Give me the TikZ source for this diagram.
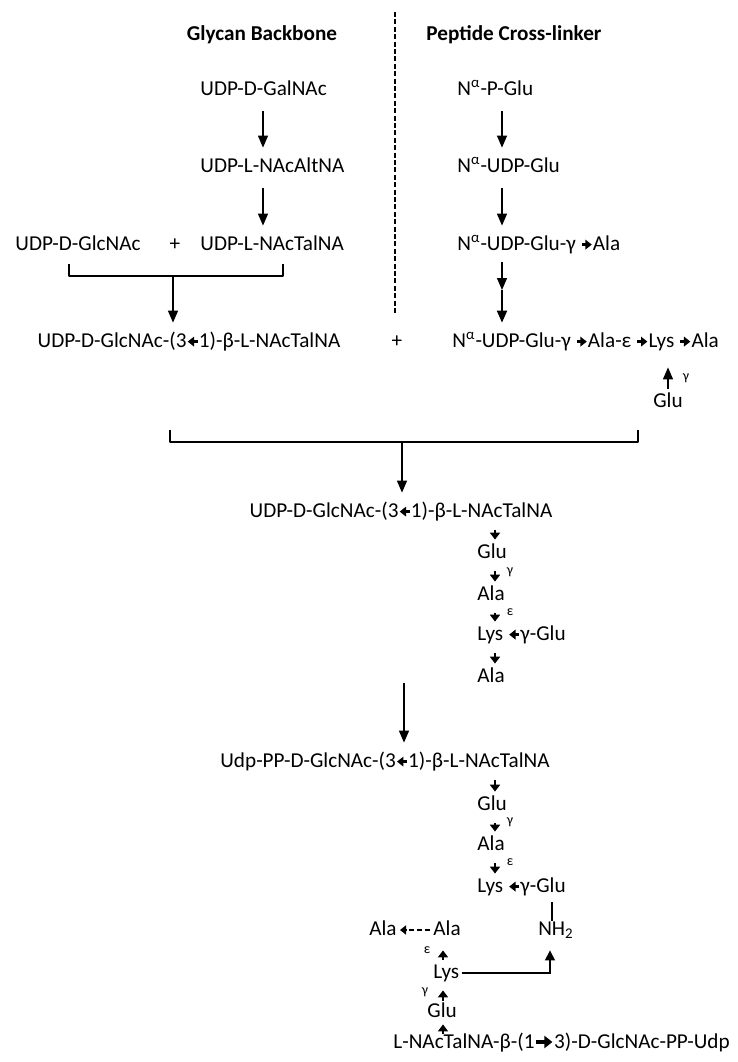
\documentclass[tikz,border=0pt]{standalone}
\usepackage{fontspec}
\setmainfont{Carlito}
\usetikzlibrary{arrows.meta,positioning}

% small bold arrows set inside the names
\newcommand{\rarr}{\tikz[baseline=-2.7pt]\draw[line width=1.2pt,-{Triangle[length=3.2pt,width=4.8pt]}] (0pt,0pt) -- (5pt,0pt);}
\newcommand{\larr}{\tikz[baseline=-2.7pt]\draw[line width=1.2pt,-{Triangle[length=3.2pt,width=4.8pt]}] (5pt,0pt) -- (0pt,0pt);}
\newcommand{\bigrarr}{\tikz[baseline=-3pt]\draw[line width=1.8pt,-{Triangle[length=4pt,width=6pt]}] (0pt,0pt) -- (8pt,0pt);}

\begin{document}
\begin{tikzpicture}[
  x=0.5pt,y=-0.5pt,
  font=\fontsize{10.6}{12}\selectfont,
  lbl/.style={inner sep=0pt,text height=7pt,text depth=2pt},
  head/.style={lbl,font=\fontsize{10.6}{12}\selectfont\bfseries},
  note/.style={inner sep=0pt,font=\fontsize{7}{8}\selectfont},
  flow/.style={-{Triangle[length=6pt,width=5pt]},line width=0.7pt,
    shorten <=6pt,shorten >=5pt},
  tiny/.style={-{Triangle[length=3.5pt,width=5pt]},line width=1.4pt,
    shorten <=4.5pt,shorten >=2pt},
  bracket/.style={line width=0.7pt,line join=round}
]
\useasboundingbox (0,0) rectangle (738,1062);

\node[head] (glycan) at (262,35) {Glycan Backbone};
\node[head] (peptide) at (514,35) {Peptide Cross-linker};
\draw[line width=1pt,dash pattern=on 2.5pt off 1.2pt] (395,12) -- (395,313);

% glycan column
\node[lbl,anchor=west] (galnac) at (200,90) {UDP-D-GalNAc};
\node[lbl,anchor=west] (altna) at (200,167) {UDP-L-NAcAltNA};
\node[lbl,anchor=west] (talna) at (200,245) {UDP-L-NAcTalNA};
\node[lbl,anchor=west] (glcnac) at (15,245) {UDP-D-GlcNAc};
\node[lbl] (plusa) at (175,245) {+};
\coordinate (gcol) at (263,0);
\draw[flow] (galnac.south -| gcol) -- (altna.north -| gcol);
\draw[flow] (altna.south -| gcol) -- (talna.north -| gcol);

\node[lbl] (sugar) at (189,342) {UDP-D-GlcNAc-(3\larr1)-β-L-NAcTalNA};
\draw[bracket] (69,264) -- (69,276) -- (283,276) -- (283,264);
\coordinate (jointa) at (173,276);
\draw[flow,shorten <=0pt] (jointa) -- (sugar.north -| jointa);

% peptide column
\node[lbl,anchor=west] (pglu) at (457,90) {N\textsuperscript{α}-P-Glu};
\node[lbl,anchor=west] (udpglu) at (457,167) {N\textsuperscript{α}-UDP-Glu};
\node[lbl,anchor=west] (udpala) at (457,245) {N\textsuperscript{α}-UDP-Glu-γ \rarr Ala};
\coordinate (pcol) at (502,0);
\coordinate (pmid) at (502,290);
\draw[flow] (pglu.south -| pcol) -- (udpglu.north -| pcol);
\draw[flow] (udpglu.south -| pcol) -- (udpala.north -| pcol);

\node[lbl] (plusb) at (397,342) {+};
\node[lbl,anchor=west] (chain) at (452,342)
  {N\textsuperscript{α}-UDP-Glu-γ \rarr Ala-ε \rarr Lys \rarr Ala};
\draw[flow,shorten <=4pt,shorten >=0pt] (udpala.south -| pcol) -- (pmid);
\draw[flow,line width=1pt,shorten <=0pt] (pmid) -- (chain.north -| pcol);

\node[lbl] (gluside) at (668,402) {Glu};
\node[note] (gama) at (686,378) {γ};
\draw[flow,shorten <=2pt,shorten >=8pt] (gluside.north) -- (gluside.north |- chain.south);

% both halves joined
\draw[bracket] (170,430) -- (170,442) -- (638,442) -- (638,430);
\coordinate (jointb) at (402,442);
\node[lbl] (dimer) at (401,512) {UDP-D-GlcNAc-(3\larr1)-β-L-NAcTalNA};
\draw[flow,shorten <=0pt] (jointb) -- (dimer.north -| jointb);

\coordinate (stem) at (495,0);
\node[lbl,anchor=west] (glua) at (477,553) {Glu};
\node[lbl,anchor=west] (alaa) at (477,595) {Ala};
\node[lbl,anchor=west] (lysa) at (477,635) {Lys \larr γ-Glu};
\node[lbl,anchor=west] (alab) at (477,677) {Ala};
\node[note] (gamb) at (510,572) {γ};
\node[note] (epsa) at (510,612) {ε};
\draw[tiny] (dimer.south -| stem) -- (glua.north -| stem);
\draw[tiny] (glua.south -| stem) -- (alaa.north -| stem);
\draw[tiny] (alaa.south -| stem) -- (lysa.north -| stem);
\draw[tiny] (lysa.south -| stem) -- (alab.north -| stem);

% lipid-linked form
\coordinate (jointc) at (404,683);
\node[lbl] (ppsugar) at (385,762) {Udp-PP-D-GlcNAc-(3\larr1)-β-L-NAcTalNA};
\draw[flow,shorten <=0pt] (jointc) -- (ppsugar.north -| jointc);

\node[lbl,anchor=west] (glub) at (477,805) {Glu};
\node[lbl,anchor=west] (alac) at (477,845) {Ala};
\node[lbl,anchor=west] (lysb) at (477,887) {Lys \larr γ-Glu};
\node[lbl] (amine) at (556,930) {NH\textsubscript{2}};
\node[note] (gamc) at (510,822) {γ};
\node[note] (epsb) at (510,862) {ε};
\draw[tiny] (ppsugar.south -| stem) -- (glub.north -| stem);
\draw[tiny] (glub.south -| stem) -- (alac.north -| stem);
\draw[tiny] (alac.south -| stem) -- (lysb.north -| stem);
\draw[line width=0.6pt,shorten <=0pt,shorten >=3pt] (amine.north -| 552,0) -- (lysb.south -| 552,0);

% second strand, cross-linked
\node[lbl,anchor=west] (alad) at (433,930) {Ala};
\node[lbl,anchor=east] (alae) at (397,930) {Ala};
\node[lbl,anchor=west] (lysc) at (433,973) {Lys};
\node[lbl,anchor=west] (gluc) at (427,1012) {Glu};
\node[lbl,anchor=west] (bottom) at (393,1043) {L-NAcTalNA-β-(1\bigrarr3)-D-GlcNAc-PP-Udp};
\node[note] (epsc) at (427,950) {ε};
\node[note] (gamd) at (425,992) {γ};
\coordinate (stemb) at (443,0);
\draw[tiny,shorten <=0pt,shorten >=1.5pt] (bottom.north -| stemb) -- (gluc.south -| stemb);
\draw[tiny,shorten <=1pt,shorten >=4pt] (gluc.north -| stemb) -- (lysc.south -| stemb);
\draw[tiny,shorten <=2pt,shorten >=5.5pt] (lysc.north -| stemb) -- (alad.south -| stemb);
\draw[-{Triangle[length=3pt,width=4.5pt]},line width=1pt,dash pattern=on 2.5pt off 1.5pt,
  shorten <=1.5pt,shorten >=1.5pt] (alad.west) -- (alae.east);
\draw[-{Triangle[length=5pt,width=5pt]},line width=0.7pt,shorten <=1pt,shorten >=5.5pt]
  (lysc.east) -| (amine.south -| 550,0);
\end{tikzpicture}
\end{document}
